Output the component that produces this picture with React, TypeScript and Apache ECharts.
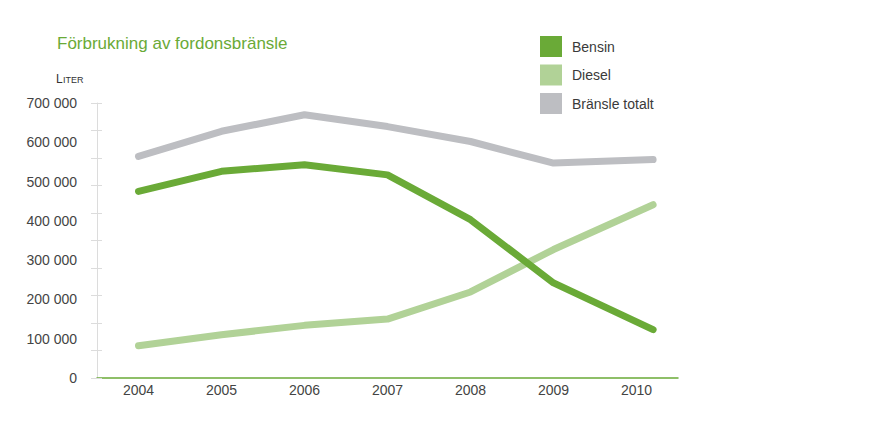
import React, { useEffect, useRef } from "react";
import * as echarts from "echarts";

const years = ["2004", "2005", "2006", "2007", "2008", "2009", "2010"];
const xPositions = [2004, 2005, 2006, 2007, 2008, 2009, 2010.2];
const bensin = [475000, 526000, 543000, 517000, 403000, 242000, 123000];
const diesel = [82000, 110000, 134000, 150000, 219000, 327000, 441000];
const totalt = [564000, 628000, 670000, 640000, 602000, 547000, 556000];
const seriesNames = ["Bensin", "Diesel", "Bränsle totalt"];
const colors = ["#6aaa37", "#b1d297", "#bdbec2"];

const FONT = "'Liberation Sans', Arial, Helvetica, sans-serif";

export default function App() {
  const ref = useRef<HTMLDivElement>(null);
  useEffect(() => {
    if (!ref.current) return;
    const chart = echarts.init(ref.current, undefined, { renderer: "svg" });
    const values = [bensin, diesel, totalt];
    chart.setOption({
      animation: false,
      backgroundColor: "#ffffff",
      textStyle: { fontFamily: FONT },
      title: {
        text: "Förbrukning av fordonsbränsle",
        left: 57,
        top: 35,
        padding: 0,
        textStyle: { fontSize: 17, fontWeight: "normal", color: "#6aaa37", fontFamily: FONT },
      },
      graphic: [
        {
          type: "text",
          x: 56,
          y: 85,
          style: {
            text: "L",
            fill: "#333333",
            fontSize: 12,
            fontFamily: FONT,
            verticalAlign: "bottom",
          },
        },
        {
          type: "text",
          x: 63,
          y: 84.5,
          style: {
            text: "ITER",
            fill: "#333333",
            fontSize: 9,
            fontFamily: FONT,
            verticalAlign: "bottom",
          },
        },
      ],
      legend: {
        orient: "vertical",
        left: 540,
        top: 36,
        padding: 0,
        icon: "rect",
        itemWidth: 22,
        itemHeight: 21,
        itemGap: 7.5,
        data: seriesNames,
        textStyle: { fontSize: 14, color: "#3a3a3a", fontFamily: FONT, padding: [0, 0, 0, 5] },
      },
      grid: { left: 97, right: 191, top: 103, bottom: 47, containLabel: false },
      xAxis: [
        {
          type: "category",
          data: years,
          boundaryGap: true,
          axisLine: { lineStyle: { color: "#6aaa37", width: 1.5 } },
          axisTick: { alignWithLabel: true, length: 5, lineStyle: { color: "#6aaa37" } },
          axisLabel: { fontSize: 14, color: "#444", margin: 5, fontFamily: FONT },
          splitLine: { show: false },
        },
        {
          type: "value",
          min: 2003.5,
          max: 2010.5,
          show: false,
        },
      ],
      yAxis: [
        {
          type: "value",
          min: 0,
          max: 700000,
          interval: 100000,
          axisLine: { show: true, lineStyle: { color: "#dcdcdc", width: 1 } },
          axisTick: { show: false },
          splitLine: { show: false },
          axisLabel: {
            fontSize: 14,
            color: "#444",
            margin: 20,
            fontFamily: FONT,
            formatter: (v: number) => (v === 0 ? "0" : `${v / 1000} 000`),
          },
        },
        {
          type: "value",
          position: "left",
          offset: -5,
          min: 0,
          max: 700000,
          interval: 70000,
          axisLine: { show: false },
          axisTick: { show: true, length: 11, lineStyle: { color: "#dcdcdc" } },
          axisLabel: { show: false },
          splitLine: { show: false },
        },
      ],
      series: seriesNames.map((name, i) => ({
        name,
        type: "line",
        xAxisIndex: 1,
        yAxisIndex: 0,
        symbol: "none",
        color: colors[i],
        lineStyle: { width: 7, color: colors[i], cap: "round" },
        data: values[i].map((v, j) => [xPositions[j], v]),
        z: i === 2 ? 1 : 2 + (1 - i),
      })),
    });
    return () => chart.dispose();
  }, []);
  return (
    <div
      ref={ref}
      style={{ position: "absolute", left: 0, top: 0, width: 869, height: 425 }}
    />
  );
}
